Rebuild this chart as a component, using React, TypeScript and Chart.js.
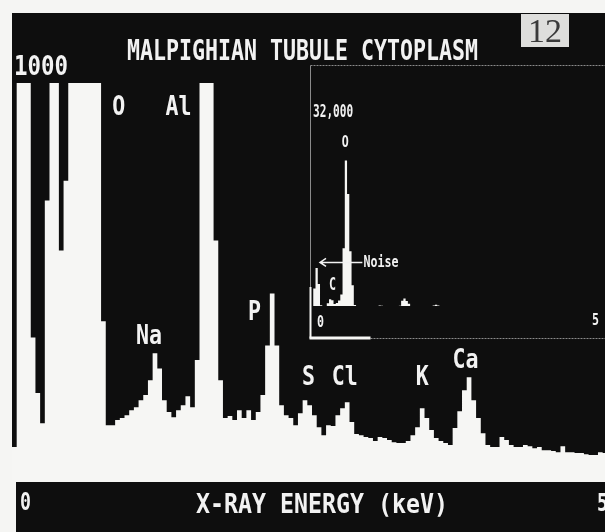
import { useEffect, useRef } from "react";
import { Chart, registerables } from "chart.js";

Chart.register(...registerables);

// Analyser channels: 0.04 keV wide, the first one starting at -0.19 keV
const channelWidthKeV = 0.04;
const firstChannelKeV = -0.19;
const screenMinKeV = -0.19;
const screenMaxKeV = 4.87;

// Counts per channel
const counts = [
  83, 3100, 6400, 3800, 359, 219, 143, 704, 1350, 1200,
  578, 754, 1150, 2100, 9600, 23800, 18400, 9100, 3600, 400,
  138, 138, 151, 156, 163, 176, 183, 201, 214, 251,
  319, 281, 201, 171, 158, 176, 188, 211, 183, 302,
  1100, 1450, 1050, 603, 251, 156, 161, 151, 176, 156,
  176, 151, 171, 214, 339, 470, 339, 188, 163, 156,
  138, 168, 201, 188, 163, 133, 113, 138, 136, 163,
  181, 196, 146, 116, 113, 108, 106, 98, 108, 106,
  101, 95, 93, 93, 98, 113, 133, 181, 156, 126,
  106, 98, 93, 88, 131, 173, 226, 259, 201, 156,
  118, 88, 83, 83, 108, 101, 88, 83, 83, 88,
  85, 80, 83, 75, 75, 73, 70, 85, 70, 70,
  68, 68, 65, 63, 63, 70, 68,
];

// Vertical full scales of the two displays
const mainFullScale = 1000;
const insetFullScale = 32000;
const insetThreshold = 250;

// Element lines marked on the main display (label anchor: keV, counts)
const peakNames = ["O", "Al", "Na", "P", "S", "Cl", "K", "Ca"];
const peakLabelKeV = [0.72, 1.23, 0.98, 1.88, 2.34, 2.65, 3.31, 3.68];
const peakLabelCounts = [919, 919, 343, 403, 239, 239, 239, 282];

// Marks on the full-scale inset
const insetPeakNames = ["O", "C"];
const insetPeakKeV = [0.42, 0.19];
const insetPeakCounts = [26000, 2800];
const noiseLabel = "Noise";
const noiseLabelKeV = 0.74;
const noiseLabelCounts = 6500;
const noiseArrowKeV = -0.03;
const noiseArrowCounts = 7300;

const titleText = "MALPIGHIAN TUBULE CYTOPLASM";
const axisTitle = "X-RAY ENERGY (keV)";
const figureNumber = "12";

const PAGE = "#f5f5f3";
const SCREEN = "#0e0e0e";
const PHOSPHOR = "#f6f6f4";
const GLYPH = "#f2f2f2";
const FRAME = "#8a8a8a";

const points = counts.map((c, i) => ({ x: firstChannelKeV + i * channelWidthKeV, y: c }));
points.push({ x: firstChannelKeV + counts.length * channelWidthKeV, y: counts[counts.length - 1] });

// Terminal-style lettering: monospace glyphs squeezed to a fixed advance
function crtText(
  ctx: CanvasRenderingContext2D,
  text: string,
  x: number,
  baseline: number,
  advance: number,
  cap: number,
  align: CanvasTextAlign = "left",
  color: string = GLYPH
) {
  const size = cap / 0.73;
  ctx.save();
  ctx.font = `bold ${size}px "DejaVu Sans Mono", monospace`;
  const natural = ctx.measureText(text).width / text.length;
  ctx.translate(x, baseline);
  ctx.scale(advance / natural, 1);
  ctx.textAlign = align;
  ctx.textBaseline = "alphabetic";
  ctx.fillStyle = color;
  ctx.fillText(text, 0, 0);
  ctx.restore();
}

const spectrumDataset = {
  data: points,
  stepped: "before" as const,
  fill: "origin",
  backgroundColor: PHOSPHOR,
  borderColor: "rgba(0,0,0,0)",
  borderWidth: 0,
  pointRadius: 0,
  pointHoverRadius: 0,
};

const screenPlugin = {
  id: "screen",
  beforeDraw(chart: Chart) {
    const { ctx, chartArea, width, height } = chart;
    ctx.save();
    ctx.fillStyle = PAGE;
    ctx.fillRect(0, 0, width, height);
    ctx.fillStyle = SCREEN;
    ctx.fillRect(chartArea.left, 13, width - chartArea.left, chartArea.bottom - 13);
    ctx.restore();
  },
  afterDraw(chart: Chart) {
    const { ctx, chartArea, width, height } = chart;
    const xs = chart.scales.x;
    const ys = chart.scales.y;

    crtText(ctx, titleText, 302.5, 60, 13, 21, "center");
    crtText(ctx, String(mainFullScale), 14, 75, 13.5, 20, "left");

    peakNames.forEach((name, i) => {
      crtText(ctx, name, xs.getPixelForValue(peakLabelKeV[i]), ys.getPixelForValue(peakLabelCounts[i]), 13, 20, "center");
    });

    // figure number plate
    ctx.save();
    ctx.fillStyle = "#dededc";
    ctx.fillRect(521, 14, 48, 33);
    ctx.fillStyle = "#3a3a3a";
    ctx.font = '34px "Liberation Serif", serif';
    ctx.textAlign = "center";
    ctx.textBaseline = "alphabetic";
    ctx.fillText(figureNumber, 545, 42);
    ctx.restore();

    // energy axis bar
    const barTop = chartArea.bottom + 2;
    ctx.save();
    ctx.fillStyle = SCREEN;
    ctx.fillRect(16, barTop, width - 16, height - barTop);
    ctx.restore();
    crtText(ctx, "0", 20, 510, 11, 18, "left");
    crtText(ctx, axisTitle, 322, 513, 14, 20, "center");
    crtText(ctx, "5", 597, 511, 11, 18, "left");
  },
};

const insetPlugin = {
  id: "insetFrame",
  beforeDraw(chart: Chart) {
    const { ctx, chartArea, width } = chart;
    const top = 5.5;
    const bottom = chartArea.bottom + 32.5;
    const left = chartArea.left - 0.5;
    ctx.save();
    ctx.strokeStyle = FRAME;
    ctx.lineWidth = 1;
    ctx.setLineDash([2, 1]);
    ctx.beginPath();
    ctx.moveTo(left, top);
    ctx.lineTo(width, top);
    ctx.moveTo(left, bottom);
    ctx.lineTo(width, bottom);
    ctx.stroke();
    ctx.setLineDash([]);
    ctx.beginPath();
    ctx.moveTo(left, top);
    ctx.lineTo(left, bottom);
    ctx.stroke();
    ctx.strokeStyle = PHOSPHOR;
    ctx.lineWidth = 2;
    ctx.beginPath();
    ctx.moveTo(left, chartArea.bottom - 19);
    ctx.lineTo(left, bottom);
    ctx.stroke();
    ctx.lineWidth = 3;
    ctx.beginPath();
    ctx.moveTo(left - 1, bottom - 0.5);
    ctx.lineTo(left + 60, bottom - 0.5);
    ctx.stroke();
    ctx.restore();
  },
  afterDraw(chart: Chart) {
    const { ctx, chartArea } = chart;
    const xs = chart.scales.x;
    const ys = chart.scales.y;

    crtText(ctx, insetFullScale.toLocaleString("en-US"), chartArea.left + 2, chartArea.top + 7, 6.7, 13, "left");
    insetPeakNames.forEach((name, i) => {
      crtText(ctx, name, xs.getPixelForValue(insetPeakKeV[i]), ys.getPixelForValue(insetPeakCounts[i]), 7, i === 1 ? 13 : 12, "center");
    });

    const lx = xs.getPixelForValue(noiseLabelKeV);
    crtText(ctx, noiseLabel, lx, ys.getPixelForValue(noiseLabelCounts), 7, 12, "left");
    const tipX = xs.getPixelForValue(noiseArrowKeV);
    const tipY = ys.getPixelForValue(noiseArrowCounts);
    ctx.save();
    ctx.strokeStyle = GLYPH;
    ctx.lineWidth = 1.5;
    ctx.beginPath();
    ctx.moveTo(lx - 1, tipY);
    ctx.lineTo(tipX, tipY);
    ctx.moveTo(tipX + 6, tipY - 4);
    ctx.lineTo(tipX, tipY);
    ctx.lineTo(tipX + 6, tipY + 4);
    ctx.stroke();
    ctx.restore();

    crtText(ctx, "0", chartArea.left + 6, chartArea.bottom + 21, 7, 12, "left");
    crtText(ctx, "5", chartArea.right - 4, chartArea.bottom + 19, 7, 12, "left");
  },
};

export default function App() {
  const mainRef = useRef<HTMLCanvasElement>(null);
  const insetRef = useRef<HTMLCanvasElement>(null);

  useEffect(() => {
    const main = new Chart(mainRef.current!, {
      type: "line",
      data: { datasets: [{ ...spectrumDataset }] as any },
      options: {
        animation: false,
        responsive: false,
        devicePixelRatio: 1,
        layout: { padding: { left: 12, right: 0, top: 83, bottom: 52 } },
        scales: {
          x: { type: "linear", min: screenMinKeV, max: screenMaxKeV, display: false },
          y: { type: "linear", min: 0, max: mainFullScale, display: false },
        },
        plugins: { legend: { display: false }, tooltip: { enabled: false }, title: { display: false } },
      },
      plugins: [screenPlugin],
    });

    const inset = new Chart(insetRef.current!, {
      type: "line",
      data: { datasets: [{ ...spectrumDataset, data: points.map((p) => ({ ...p })) }] as any },
      options: {
        animation: false,
        responsive: false,
        devicePixelRatio: 1,
        layout: { padding: { left: 11, right: 9, top: 50, bottom: 39 } },
        scales: {
          x: { type: "linear", min: screenMinKeV, max: screenMaxKeV, display: false },
          y: { type: "linear", min: insetThreshold, max: insetFullScale, display: false },
        },
        plugins: { legend: { display: false }, tooltip: { enabled: false }, title: { display: false } },
      },
      plugins: [insetPlugin],
    });

    return () => {
      main.destroy();
      inset.destroy();
    };
  }, []);

  return (
    <div
      style={{
        position: "fixed",
        left: 0,
        top: 0,
        width: 605,
        height: 532,
        background: PAGE,
        overflow: "hidden",
      }}
    >
      <canvas ref={mainRef} width={605} height={532} style={{ position: "absolute", left: 0, top: 0 }} />
      <canvas ref={insetRef} width={305} height={285} style={{ position: "absolute", left: 300, top: 60 }} />
    </div>
  );
}
